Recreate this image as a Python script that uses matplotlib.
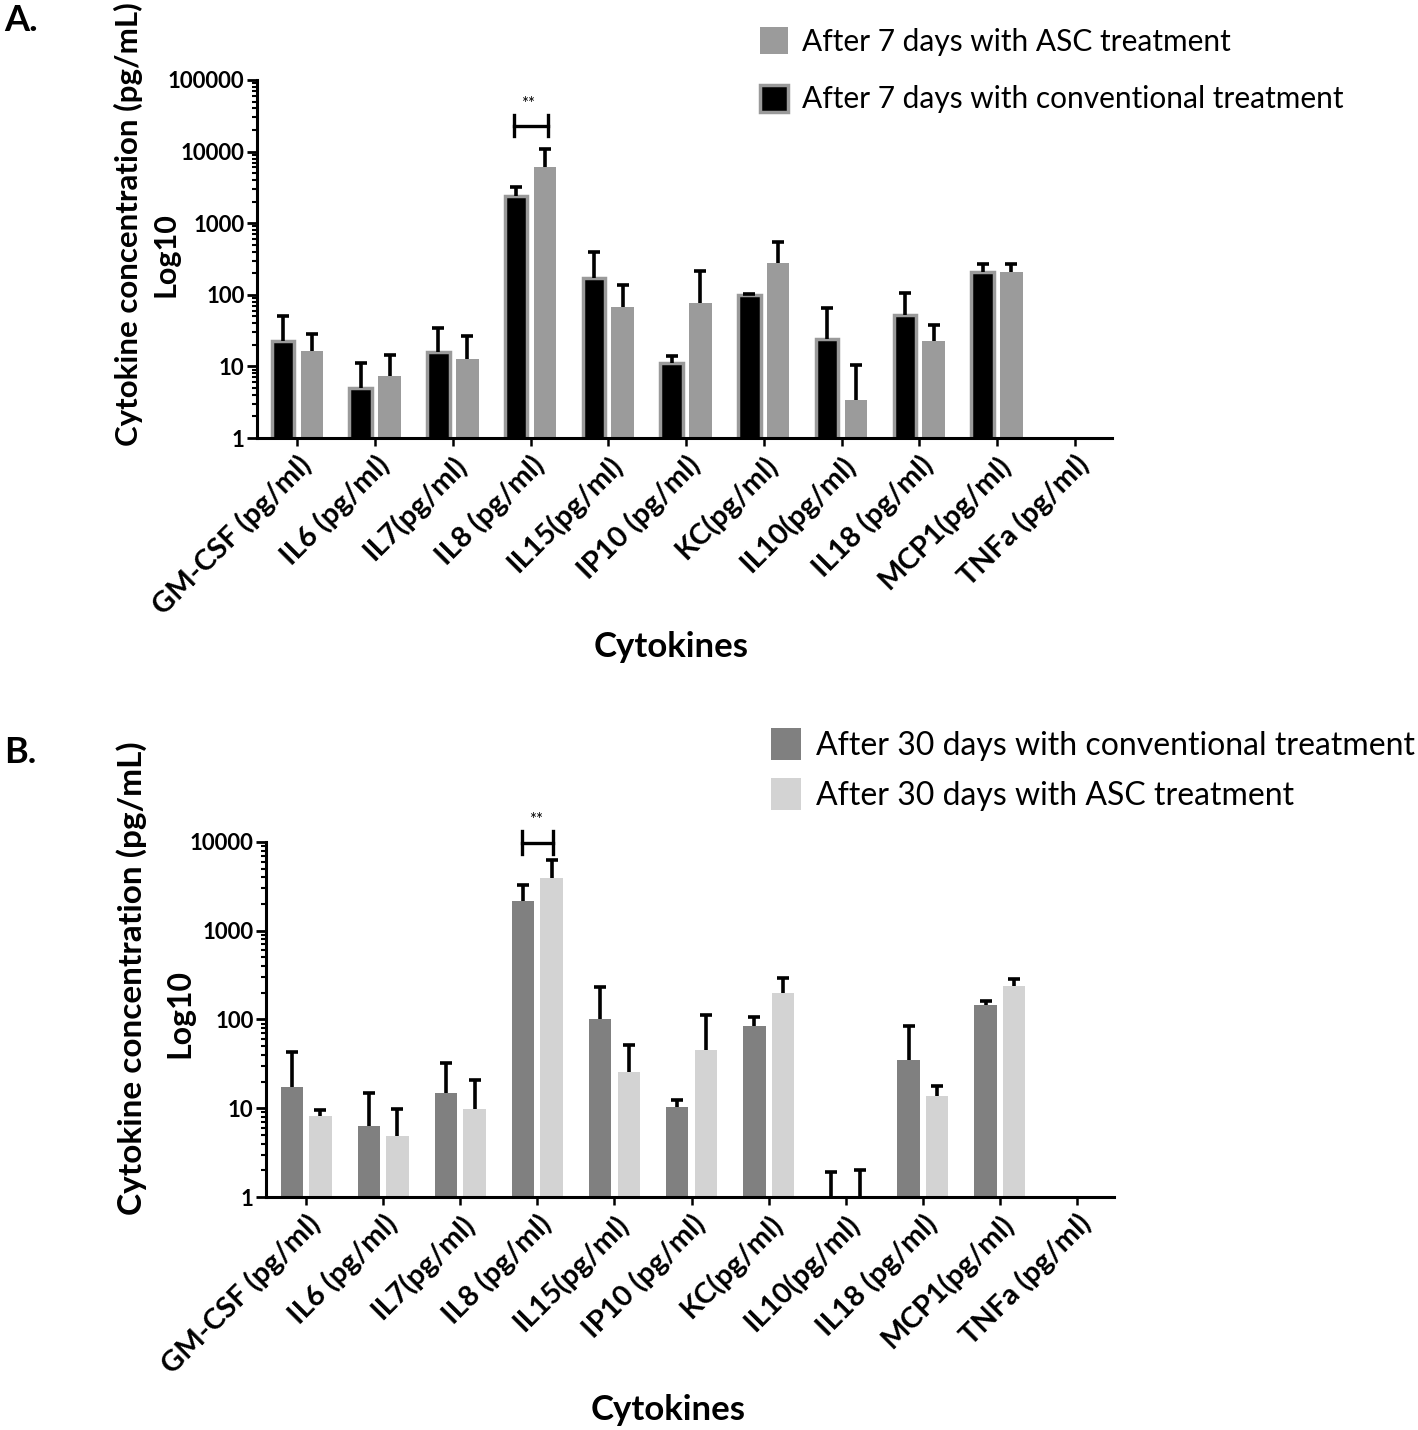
import numpy as np
import matplotlib
matplotlib.use("Agg")
import matplotlib.pyplot as plt
from matplotlib.ticker import FixedLocator, LogLocator, NullFormatter
from matplotlib.patches import Patch

plt.rcParams['font.family'] = ['Lato', 'DejaVu Sans']

categories = ["GM-CSF (pg/ml)", "IL6 (pg/ml)", "IL7(pg/ml)", "IL8 (pg/ml)", "IL15(pg/ml)",
              "IP10 (pg/ml)", "KC(pg/ml)", "IL10(pg/ml)", "IL18 (pg/ml)", "MCP1(pg/ml)", "TNFa (pg/ml)"]

# Panel A (7 days)
a_conv = [22.3, 5.0, 15.7, 2400, 169, 11.0, 98, 24, 52, 209, np.nan]
a_conv_err = [51, 11.1, 34.3, 3200, 402, 13.8, 103, 66, 105, 265, np.nan]
a_asc = [16.2, 7.25, 12.7, 6100, 66.6, 75.7, 282, 3.43, 22.3, 205, np.nan]
a_asc_err = [28.3, 14.5, 26.8, 11000, 136, 212, 555, 10.5, 37.7, 271, np.nan]

# Panel B (30 days)
b_conv = [17.4, 6.36, 14.9, 2160, 100, 10.4, 84, 1.0, 35.3, 146, np.nan]
b_conv_err = [43, 14.7, 32.7, 3240, 234, 12.4, 108, 1.9, 83.4, 163, np.nan]
b_asc = [8.24, 4.92, 9.8, 3950, 25.7, 44.9, 197, 1.0, 13.7, 239, np.nan]
b_asc_err = [9.5, 9.7, 20.7, 6340, 51, 111, 293, 1.99, 17.7, 286, np.nan]

a_yticks = [1, 10, 100, 1000, 10000, 100000]
a_yticklabels = ["1", "10", "100", "1000", "10000", "100000"]
b_yticks = [1, 10, 100, 1000, 10000]
b_yticklabels = ["1", "10", "100", "1000", "10000"]

W, H = 1418, 1430
fig = plt.figure(figsize=(W / 100, H / 100), dpi=100)

def fx(px):
    return px / W

def fy(py):
    return 1 - py / H

def make_panel(rect, conv, conv_err, asc, asc_err, conv_style, asc_style, yticks, yticklabels):
    ax = fig.add_axes(rect)
    x = np.arange(len(categories))
    off = 0.185
    w = 0.29
    ax.bar(x - off, conv, w, **conv_style, zorder=2)
    ax.bar(x + off, asc, w, **asc_style, zorder=2)
    for xs, v, e in ((x - off, conv, conv_err), (x + off, asc, asc_err)):
        v = np.array(v, dtype=float)
        e = np.array(e, dtype=float)
        eb = ax.errorbar(xs, v, yerr=[np.zeros_like(v), e - v], fmt='none', ecolor='black',
                         elinewidth=2.6, capsize=4, capthick=2.6, zorder=3)
        eb[1][0].set_visible(False)  # no lower cap
    ax.set_yscale('log')
    ax.set_ylim(yticks[0], yticks[-1])
    ax.set_xlim(-0.52, 10.48)
    ax.yaxis.set_major_locator(FixedLocator(yticks))
    ax.set_yticklabels(yticklabels, fontsize=16, fontweight='bold')
    ax.yaxis.set_minor_locator(LogLocator(base=10, subs=np.arange(2, 10)))
    ax.yaxis.set_minor_formatter(NullFormatter())
    ax.set_xticks(x)
    ax.set_xticklabels(categories, rotation=45, ha='right', va='top', rotation_mode='anchor',
                       fontsize=21, fontweight='bold')
    for s in ('top', 'right'):
        ax.spines[s].set_visible(False)
    for s in ('left', 'bottom'):
        ax.spines[s].set_linewidth(2.2)
    ax.tick_params(axis='y', which='major', length=7, width=2.0, pad=2)
    ax.tick_params(axis='y', which='minor', length=3.5, width=1.5)
    ax.tick_params(axis='x', which='major', length=6, width=1.8, pad=3)
    return ax

# Panel A
a_conv_style = dict(color='black', edgecolor='#9a9a9a', linewidth=2.5)
a_asc_style = dict(color='#9b9b9b', edgecolor='none')
axA = make_panel([fx(257), fy(438), fx(1112) - fx(257), fy(80) - fy(438)],
                 a_conv, a_conv_err, a_asc, a_asc_err, a_conv_style, a_asc_style,
                 a_yticks, a_yticklabels)
# significance bracket A
axA.plot([3 - 0.22, 3 + 0.22], [22800, 22800], color='black', lw=2.4, clip_on=False, zorder=4)
for xb in (3 - 0.22, 3 + 0.22):
    axA.plot([xb, xb], [16500, 32000], color='black', lw=2.4, clip_on=False, zorder=4)
axA.text(2.97, 46000, "**", ha='center', va='center', fontsize=12)

# Panel B
b_conv_style = dict(color='#808080', edgecolor='none')
b_asc_style = dict(color='#d3d3d3', edgecolor='none')
axB = make_panel([fx(266), fy(1197), fx(1114) - fx(266), fy(842) - fy(1197)],
                 b_conv, b_conv_err, b_asc, b_asc_err, b_conv_style, b_asc_style,
                 b_yticks, b_yticklabels)
axB.plot([3 - 0.2, 3 + 0.2], [9740, 9740], color='black', lw=2.4, clip_on=False, zorder=4)
for xb in (3 - 0.2, 3 + 0.2):
    axB.plot([xb, xb], [7300, 13200], color='black', lw=2.4, clip_on=False, zorder=4)
axB.text(2.98, 17500, "**", ha='center', va='center', fontsize=12, clip_on=False)

# Legends
hA = [Patch(facecolor='#9b9b9b', edgecolor='none'),
      Patch(facecolor='black', edgecolor='#9a9a9a', linewidth=2.5)]
fig.legend(hA, ["After 7 days with ASC treatment", "After 7 days with conventional treatment"],
           loc='upper left', bbox_to_anchor=(fx(760), fy(27)), frameon=False, fontsize=21.5,
           handlelength=0.95, handleheight=1.0, handletextpad=0.45, labelspacing=0.98,
           borderpad=0, borderaxespad=0)
hB = [Patch(facecolor='#808080', edgecolor='none'),
      Patch(facecolor='#d3d3d3', edgecolor='none')]
fig.legend(hB, ["After 30 days with conventional treatment", "After 30 days with ASC treatment"],
           loc='upper left', bbox_to_anchor=(fx(771), fy(728)), frameon=False, fontsize=23,
           handlelength=0.95, handleheight=1.15, handletextpad=0.45, labelspacing=0.55,
           borderpad=0, borderaxespad=0)

# Labels
fig.text(fx(4), fy(4), "A.", fontsize=26, fontweight='bold', ha='left', va='top')
fig.text(fx(4), fy(736), "B.", fontsize=26, fontweight='bold', ha='left', va='top')
fig.text(fx(128), fy(224), "Cytokine concentration (pg/mL)", rotation=90, fontsize=22.5,
         fontweight='bold', ha='center', va='center')
fig.text(fx(166), fy(255), "Log10", rotation=90, fontsize=22, fontweight='bold',
         ha='center', va='center')
fig.text(fx(132), fy(978), "Cytokine concentration (pg/mL)", rotation=90, fontsize=24,
         fontweight='bold', ha='center', va='center')
fig.text(fx(180), fy(1013), "Log10", rotation=90, fontsize=23, fontweight='bold',
         ha='center', va='center')
fig.text(fx(671), fy(647), "Cytokines", fontsize=25, fontweight='bold', ha='center', va='center')
fig.text(fx(668), fy(1410), "Cytokines", fontsize=25, fontweight='bold', ha='center', va='center')

fig.savefig("out.png", dpi=100)
